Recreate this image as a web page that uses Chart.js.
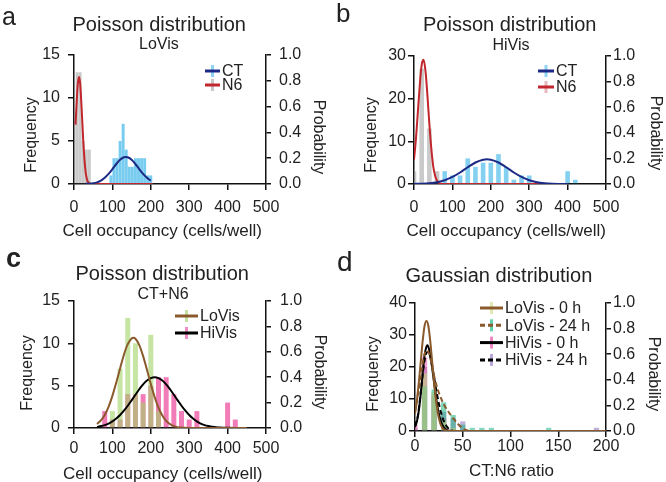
<!DOCTYPE html>
<html><head><meta charset="utf-8">
<script src="https://cdn.jsdelivr.net/npm/chart.js@4"></script>
<style>
html,body{margin:0;padding:0;background:#fff;}
#fig{position:relative;width:666px;height:482px;overflow:hidden;font-family:"Liberation Sans",Arial,sans-serif;color:#222;}
canvas{position:absolute;}
.t{position:absolute;white-space:nowrap;line-height:1;}
</style></head><body><div id="fig">
<canvas id="ca" width="333" height="240" style="left:0;top:0"></canvas>
<canvas id="cb" width="333" height="240" style="left:333px;top:0"></canvas>
<canvas id="cc" width="333" height="242" style="left:0;top:240px"></canvas>
<canvas id="cd" width="333" height="242" style="left:333px;top:240px"></canvas>
</div>
<script>
// ---------- Panel a: LoVis ----------
const aN6X = [0, 8, 16, 24, 32, 40];
const aN6Freq = [7, 13, 13, 5, 4, 4];
const aCTX = [96, 104, 112, 120, 128, 136, 144, 152, 160, 168, 176, 184, 192, 200];
const aCTFreq = [1, 3, 3, 5, 7, 4, 2, 2, 3, 3, 3, 3, 1, 1];
const aN6CurveX = [4, 6, 8, 10, 12, 13, 14, 16, 18, 20, 22, 24, 26, 28, 30, 32, 35, 38, 42, 50, 205];
const aN6CurveP = [0.46, 0.58, 0.69, 0.78, 0.82, 0.83, 0.82, 0.78, 0.69, 0.58, 0.46, 0.34, 0.24, 0.16, 0.10, 0.06, 0.024, 0.009, 0.002, 0, 0];
const aCTCurveX = [30, 40, 50, 60, 70, 80, 90, 100, 110, 120, 130, 135, 140, 150, 160, 170, 180, 190, 200];
const aCTCurveP = [0.001, 0.0025, 0.006, 0.013, 0.026, 0.048, 0.078, 0.115, 0.155, 0.188, 0.207, 0.21, 0.207, 0.188, 0.155, 0.115, 0.078, 0.048, 0.026];

// ---------- Panel b: HiVis ----------
const bN6X = [0, 20, 40, 60];
const bN6Freq = [3, 27, 13, 3];
const bCTX = [80, 100, 120, 140, 160, 180, 200, 220, 240, 260, 280, 300, 400, 420];
const bCTFreq = [3, 2, 2, 6, 4, 5, 5, 7, 4, 1, 2, 2, 3, 1];
const bN6CurveX = [0, 5, 10, 15, 20, 25, 30, 35, 40, 45, 50, 55, 60, 65, 70, 80, 400];
const bN6CurveP = [0.19, 0.35, 0.56, 0.77, 0.93, 0.97, 0.88, 0.69, 0.47, 0.28, 0.14, 0.064, 0.025, 0.008, 0.002, 0, 0];
const bCTCurveX = [0, 20, 40, 60, 80, 100, 120, 140, 160, 180, 190, 200, 220, 240, 260, 280, 300, 320, 340, 360, 380, 400];
const bCTCurveP = [0.0007, 0.0022, 0.0059, 0.014, 0.0296, 0.055, 0.090, 0.131, 0.168, 0.190, 0.193, 0.190, 0.168, 0.131, 0.090, 0.055, 0.0296, 0.014, 0.0059, 0.0022, 0.0007, 0.0002];

// ---------- Panel c: CT+N6 ----------
const cLoX = [100, 120, 140, 160, 180, 200, 220];
const cLoFreq = [2, 7, 13, 10, 3, 11, 2];
const cHiX = [80, 100, 120, 140, 160, 180, 200, 220, 240, 260, 280, 300, 320, 400, 420];
const cHiFreq = [2, 1, 1, 4, 4, 4, 5, 6, 6, 4, 2, 1, 2, 3, 1];
const cLoCurveX = [60, 70, 80, 90, 100, 110, 120, 130, 140, 150, 155, 160, 170, 180, 190, 200, 210, 220, 230, 240, 250, 260, 270, 280, 290, 300, 450];
const cLoCurveP = [0.032, 0.060, 0.103, 0.167, 0.253, 0.357, 0.469, 0.577, 0.66, 0.705, 0.71, 0.703, 0.653, 0.566, 0.458, 0.346, 0.244, 0.160, 0.098, 0.056, 0.030, 0.015, 0.007, 0.003, 0.001, 0, 0];
const cHiCurveX = [60, 70, 80, 90, 100, 110, 120, 130, 140, 150, 160, 170, 180, 190, 200, 210, 220, 230, 240, 250, 260, 270, 280, 290, 300, 310, 320, 330, 340, 350, 360, 370, 380, 400, 420, 450];
const cHiCurveP = [0.009, 0.015, 0.023, 0.035, 0.052, 0.074, 0.102, 0.136, 0.175, 0.218, 0.262, 0.305, 0.344, 0.374, 0.393, 0.40, 0.393, 0.374, 0.344, 0.305, 0.262, 0.218, 0.175, 0.136, 0.102, 0.074, 0.052, 0.035, 0.023, 0.015, 0.009, 0.005, 0.003, 0.001, 0, 0];

// ---------- Panel d: CT:N6 ratio ----------
const dLo0X = [10, 20, 30, 40];
const dLo0Freq = [18, 12, 3, 1];
const dLo24X = [10, 20, 30, 40, 50, 60, 70, 80, 140];
const dLo24Freq = [14, 13, 9, 5, 2, 1, 1, 1, 1];
const dHi0X = [0, 10, 20, 30, 40];
const dHi0Freq = [2, 23, 11, 4, 1];
const dHi24X = [0, 10, 20, 30, 40, 50, 190];
const dHi24Freq = [1, 20, 12, 6, 4, 3, 1];
const dLo0CurveX = [0, 2, 4, 6, 8, 10, 12, 14, 16, 18, 20, 22, 24, 26, 28, 30, 33, 36, 200];
const dLo0CurveP = [0.136, 0.24, 0.38, 0.54, 0.70, 0.82, 0.86, 0.82, 0.70, 0.54, 0.38, 0.24, 0.136, 0.07, 0.032, 0.0135, 0.003, 0, 0];
const dLo24CurveX = [0, 3, 6, 9, 12, 15, 18, 21, 24, 27, 30, 35, 40, 45, 50, 55, 60];
const dLo24CurveP = [0.15, 0.28, 0.43, 0.57, 0.63, 0.60, 0.50, 0.40, 0.32, 0.26, 0.21, 0.15, 0.10, 0.055, 0.02, 0.005, 0];
const dHi0CurveX = [0, 2, 4, 6, 8, 10, 12, 13, 15, 18, 21, 24, 27, 30, 33, 36, 40];
const dHi0CurveP = [0.03, 0.075, 0.16, 0.29, 0.45, 0.59, 0.66, 0.67, 0.63, 0.49, 0.32, 0.17, 0.078, 0.03, 0.009, 0.002, 0];
const dHi24CurveX = [0, 3, 6, 9, 12, 14, 17, 20, 23, 26, 29, 32, 35, 40];
const dHi24CurveP = [0.04, 0.12, 0.30, 0.50, 0.61, 0.62, 0.55, 0.42, 0.29, 0.18, 0.10, 0.05, 0.02, 0];

Chart.defaults.font.family = '"Liberation Sans", Arial, sans-serif';
Chart.defaults.font.size = 16;
Chart.defaults.color = '#222';

const insideLegend = {
  id: 'insideLegend',
  afterDatasetsDraw(chart, args, o) {
    if (!o || !o.x) return;
    const ctx = chart.ctx;
    const items = chart.data.datasets.filter(d => d.type === 'line');
    ctx.save();
    items.forEach((d, i) => {
      const y = o.y + i * o.rowH;
      ctx.fillStyle = d.markerColor;
      ctx.fillRect(o.x + o.len / 2 - 1.5, y - 6, 3, 12);
      ctx.strokeStyle = d.borderColor;
      ctx.lineWidth = 3;
      ctx.setLineDash(d.borderDash && d.borderDash.length ? [5, 3] : []);
      ctx.beginPath(); ctx.moveTo(o.x, y); ctx.lineTo(o.x + o.len, y); ctx.stroke();
      ctx.setLineDash([]);
      ctx.fillStyle = '#222';
      ctx.font = '16px "Liberation Sans", Arial, sans-serif';
      ctx.textBaseline = 'middle';
      ctx.textAlign = 'left';
      ctx.fillText(d.label, o.textX, y + 1);
    });
    ctx.restore();
  }
};

function pts(xs, ys) { return xs.map((x, i) => ({x: x, y: ys[i]})); }

function panel(id, o) {
  const datasets = [];
  o.lines.forEach(l => datasets.push({
    type: 'line', label: l.label, data: pts(l.x, l.y), yAxisID: 'y2',
    borderColor: l.color, borderWidth: 2, borderDash: l.dash || [],
    pointRadius: 0, cubicInterpolationMode: 'monotone', fill: false,
    order: 0, markerColor: l.marker
  }));
  o.bars.forEach((b, i) => datasets.push({
    type: 'bar', label: b.label, data: pts(b.x, b.y), yAxisID: 'y',
    backgroundColor: b.color, borderWidth: 0, grouped: false,
    categoryPercentage: 1, barPercentage: o.pct, order: 1 + i
  }));
  const axisLine = {color: '#111', width: 1.5};
  const gridOpt = (tl) => ({drawOnChartArea: false, offset: false, tickLength: tl, color: '#111', lineWidth: 1.5});
  new Chart(document.getElementById(id), {
    type: 'bar',
    data: {datasets},
    options: {
      responsive: false, animation: false, events: [],
      layout: {padding: {top: o.top, left: 0, right: 0, bottom: 0}},
      plugins: {legend: {display: false}, tooltip: {enabled: false}, insideLegend: o.legend},
      scales: {
        x: {type: 'linear', min: 0, max: o.xmax, offset: false,
            ticks: {stepSize: o.xstep, padding: o.xpad, maxRotation: 0, color: '#222'},
            grid: gridOpt(6), border: axisLine,
            afterFit: s => { s.height = o.xh; }},
        y: {type: 'linear', position: 'left', min: 0, max: o.ymax,
            ticks: {stepSize: o.ystep, padding: o.ypad, color: '#222'},
            grid: gridOpt(6), border: axisLine,
            afterFit: s => { s.width = o.yw; }},
        y2: {type: 'linear', position: 'right', min: 0, max: 1,
             ticks: {stepSize: 0.2, padding: o.y2pad, color: '#222', callback: v => Number(v).toFixed(1)},
             grid: gridOpt(5), border: axisLine,
             afterFit: s => { s.width = o.y2w; }}
      }
    },
    plugins: [insideLegend]
  });
}

const navy = '#1c2a85', red = '#c1272d', brown = '#8a5a2c', black = '#000';
const blueBar = 'rgba(30,170,230,0.6)', greyBar = 'rgba(150,150,150,0.5)';

panel('ca', {
  top: 55, xh: 56, yw: 74, y2w: 67, xmax: 500, xstep: 100, ymax: 15, ystep: 5,
  xpad: 8, ypad: 8, y2pad: 8, pct: 0.95,
  legend: {x: 205, textX: 222, y: 71, rowH: 14, len: 15},
  lines: [
    {label: 'CT', x: aCTCurveX, y: aCTCurveP, color: navy, marker: '#8fd3f4'},
    {label: 'N6', x: aN6CurveX, y: aN6CurveP, color: red, marker: '#c8c8c8'}
  ],
  bars: [
    {label: 'CT', x: aCTX, y: aCTFreq, color: blueBar},
    {label: 'N6', x: aN6X, y: aN6Freq, color: greyBar}
  ]
});

panel('cb', {
  top: 56, xh: 56, yw: 81, y2w: 60, xmax: 500, xstep: 100, ymax: 30, ystep: 10,
  xpad: 8, ypad: 2, y2pad: 2, pct: 0.6,
  legend: {x: 205, textX: 223, y: 71, rowH: 16, len: 16},
  lines: [
    {label: 'CT', x: bCTCurveX, y: bCTCurveP, color: navy, marker: '#8fd3f4'},
    {label: 'N6', x: bN6CurveX, y: bN6CurveP, color: red, marker: '#e9b7b9'}
  ],
  bars: [
    {label: 'CT', x: bCTX, y: bCTFreq, color: 'rgba(30,170,230,0.55)'},
    {label: 'N6', x: bN6X, y: bN6Freq, color: greyBar}
  ]
});

panel('cc', {
  top: 61, xh: 54, yw: 74, y2w: 67, xmax: 500, xstep: 100, ymax: 15, ystep: 5,
  xpad: 5, ypad: 8, y2pad: 9, pct: 0.65,
  legend: {x: 175, textX: 200, y: 76, rowH: 17, len: 23},
  lines: [
    {label: 'LoVis', x: cLoCurveX, y: cLoCurveP, color: brown, marker: '#c5e3a0'},
    {label: 'HiVis', x: cHiCurveX, y: cHiCurveP, color: black, marker: '#f08cc4'}
  ],
  bars: [
    {label: 'LoVis', x: cLoX, y: cLoFreq, color: 'rgba(160,210,100,0.6)'},
    {label: 'HiVis', x: cHiX, y: cHiFreq, color: 'rgba(236,80,160,0.75)'}
  ]
});

panel('cd', {
  top: 63, xh: 51, yw: 82, y2w: 60, xmax: 200, xstep: 50, ymax: 40, ystep: 10,
  xpad: 0, ypad: 2, y2pad: 2, pct: 0.55,
  legend: {x: 147, textX: 172, y: 68, rowH: 17.3, len: 23},
  lines: [
    {label: 'LoVis - 0 h', x: dLo0CurveX, y: dLo0CurveP, color: brown, marker: '#dfe9b0'},
    {label: 'LoVis - 24 h', x: dLo24CurveX, y: dLo24CurveP, color: brown, dash: [5, 3], marker: '#5fd3ac'},
    {label: 'HiVis - 0 h', x: dHi0CurveX, y: dHi0CurveP, color: black, marker: '#ee88c4'},
    {label: 'HiVis - 24 h', x: dHi24CurveX, y: dHi24CurveP, color: black, dash: [5, 3], marker: '#b9a6dc'}
  ],
  bars: [
    {label: 'LoVis - 0 h', x: dLo0X, y: dLo0Freq, color: 'rgba(190,220,120,0.55)'},
    {label: 'LoVis - 24 h', x: dLo24X, y: dLo24Freq, color: 'rgba(30,180,130,0.55)'},
    {label: 'HiVis - 0 h', x: dHi0X, y: dHi0Freq, color: 'rgba(230,90,170,0.55)'},
    {label: 'HiVis - 24 h', x: dHi24X, y: dHi24Freq, color: 'rgba(140,110,190,0.55)'}
  ]
});

// ---------- HTML text ----------
const fig = document.getElementById('fig');
function txt(s, x, base, size, opt) {
  opt = opt || {};
  const d = document.createElement('div');
  d.className = 't'; d.textContent = s;
  d.style.fontSize = size + 'px';
  if (opt.bold) d.style.fontWeight = 'bold';
  fig.appendChild(d);
  const w = d.offsetWidth;
  d.style.left = (opt.left ? x : x - w / 2) + 'px';
  d.style.top = (base - 0.8465 * size) + 'px';
}
function vtxt(s, cx, cy, size, deg) {
  const d = document.createElement('div');
  d.className = 't'; d.textContent = s;
  d.style.fontSize = size + 'px';
  d.style.left = cx + 'px'; d.style.top = cy + 'px';
  d.style.transform = 'translate(-50%,-50%) rotate(' + deg + 'deg)';
  fig.appendChild(d);
}
// panel a
txt('a', 2, 25, 25, {left: true});
txt('Poisson distribution', 159, 30.5, 20);
txt('LoVis', 159, 50, 16);
txt('Cell occupancy (cells/well)', 162, 236, 17);
vtxt('Frequency', 31, 135, 16, -90);
vtxt('Probability', 319, 137, 16, 90);
// panel b
txt('b', 336, 22, 26, {left: true});
txt('Poisson distribution', 509.5, 31, 20);
txt('HiVis', 511, 50.5, 16);
txt('Cell occupancy (cells/well)', 506, 236, 17);
vtxt('Frequency', 371, 135, 16, -90);
vtxt('Probability', 655.5, 133, 16, 90);
// panel c
txt('c', 6, 268, 27, {left: true, bold: true});
txt('Poisson distribution', 162, 280, 20);
txt('CT+N6', 163, 300, 16);
txt('Cell occupancy (cells/well)', 162.5, 479, 17);
vtxt('Frequency', 27, 373, 16, -90);
vtxt('Probability', 320, 372, 16, 90);
// panel d
txt('d', 337, 272, 28, {left: true});
txt('Gaussian distribution', 499, 282, 20);
txt('CT:N6 ratio', 511.5, 476, 17);
vtxt('Frequency', 372.5, 374, 16, -90);
vtxt('Probability', 653.5, 373.5, 16, 90);
</script>
</body></html>
